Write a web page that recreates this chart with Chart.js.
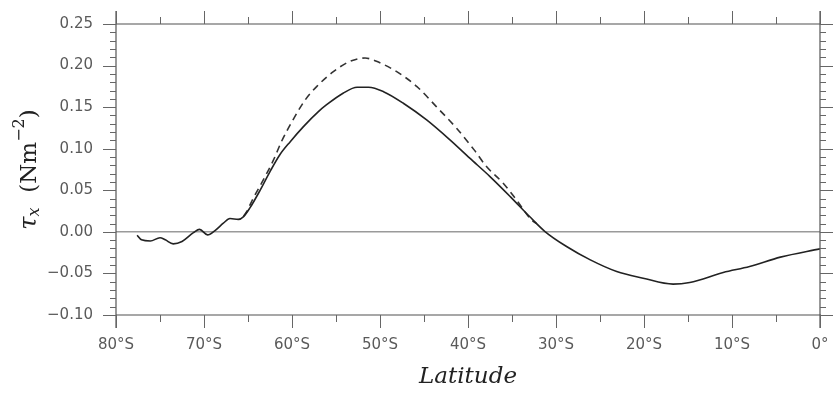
<!DOCTYPE html>
<html>
<head>
<meta charset="utf-8">
<script src="https://cdn.jsdelivr.net/npm/chart.js@4.4.1/dist/chart.umd.min.js"></script>
<style>
    html, body { margin: 0; padding: 0; background: #fff; }
    #wrap { width: 834px; height: 398px; }
</style>
</head>
<body>
<div id="wrap"><canvas id="tauChart" width="834" height="398"></canvas></div>
<script>
// 緯度 (負值 = 南緯) 與風應力 τx
const solidLat = [-77.6, -77.1, -76.1, -75.0, -74.4, -73.5, -72.5, -71.2, -70.5, -69.6, -68.75, -67.8, -67.05, -66.1, -65.5,
    -64.8, -63.6, -62.5, -61.4, -60.2, -58.7, -57.0, -56.1, -54.2, -52.6, -51.3, -49.6, -47.35, -44.7, -42.05, -39.8, -37.5,
    -35.2, -33.0, -31.25, -28.8, -26.1, -23.1, -20.1, -16.7, -14.8, -11.0, -8.0, -4.5, 0];
const solidTau = [-0.004, -0.0096, -0.011, -0.007, -0.0096, -0.0144, -0.0116, -0.001, 0.003, -0.0036, 0.0016, 0.0104, 0.016, 0.015, 0.0184,
    0.0285, 0.0505, 0.0725, 0.0925, 0.1085, 0.1266, 0.1446, 0.1526, 0.1667, 0.1739, 0.1739, 0.1686, 0.1547, 0.1346, 0.1106, 0.0886, 0.0665,
    0.0424, 0.0184, 0.0004, -0.0176, -0.0337, -0.0477, -0.0557, -0.0629, -0.0609, -0.0489, -0.0417, -0.0304, -0.0204];

const dashLat = [-65.5, -65.15, -64.4, -63.26, -62.1, -61.2, -60.0, -58.5, -57.2, -55.3, -53.4, -51.7, -50.4, -48.1, -45.8, -43.6, -41.3,
    -39.3, -37.9, -36.0, -34.5, -32.8, -32.2];
const dashTau = [0.019, 0.0244, 0.0405, 0.0625, 0.0865, 0.1085, 0.1326, 0.1587, 0.1747, 0.1927, 0.2051, 0.2091, 0.2051, 0.1927, 0.1747, 0.1506, 0.1246,
    0.0986, 0.0785, 0.0585, 0.0385, 0.0144, 0.010];

// 刻度
const xTicks = [-80, -70, -60, -50, -40, -30, -20, -10, 0];
const yTicks = [-0.10, -0.05, 0.00, 0.05, 0.10, 0.15, 0.20, 0.25];

const tickColor = '#5a5a5a';
const labelFont = { family: 'DejaVu Sans', size: 15 };

function toPoints(xs, ys) {
    return xs.map((x, i) => ({ x: x, y: ys[i] }));
}

function latLabel(v) {
    if (v === 0) return '0°';
    return Math.abs(v) + '°S';
}

function tauLabel(v) {
    const s = Math.abs(v).toFixed(2);
    return v < -1e-9 ? '\u2212' + s : s;
}

// 框線、刻度、零線
const framePlugin = {
    id: 'frame',
    beforeDatasetsDraw(chart) {
        const { ctx, chartArea: a, scales } = chart;
        const y0 = scales.y.getPixelForValue(0);
        ctx.save();
        ctx.strokeStyle = '#9a9a9a';
        ctx.lineWidth = 1.5;
        ctx.beginPath();
        ctx.moveTo(a.left, y0);
        ctx.lineTo(a.right, y0);
        ctx.stroke();
        ctx.restore();
    },
    afterDraw(chart) {
        const { ctx, chartArea: a, scales } = chart;
        const xs = scales.x, ys = scales.y;
        ctx.save();
        // 上下框線
        ctx.strokeStyle = '#8a8a8a';
        ctx.lineWidth = 1.5;
        ctx.beginPath();
        ctx.moveTo(a.left, a.top); ctx.lineTo(a.right + 1, a.top);
        ctx.moveTo(a.left, a.bottom); ctx.lineTo(a.right + 1, a.bottom);
        ctx.stroke();
        // 左右軸
        ctx.strokeStyle = '#555';
        ctx.lineWidth = 1.2;
        ctx.beginPath();
        ctx.moveTo(a.left, a.top - 13); ctx.lineTo(a.left, a.bottom + 13);
        ctx.moveTo(a.right, a.top - 13); ctx.lineTo(a.right, a.bottom + 13);
        ctx.stroke();
        // x 刻度 (每 5 度)
        ctx.strokeStyle = '#666';
        ctx.lineWidth = 1;
        ctx.beginPath();
        for (let v = -80; v <= 0; v += 5) {
            const px = Math.round(xs.getPixelForValue(v)) + 0.5;
            const len = v % 10 === 0 ? 13 : 7;
            ctx.moveTo(px, a.top); ctx.lineTo(px, a.top - len);
            ctx.moveTo(px, a.bottom); ctx.lineTo(px, a.bottom + len);
        }
        // y 刻度 (每 0.01)
        for (let k = -10; k <= 25; k++) {
            const py = Math.round(ys.getPixelForValue(k / 100)) + 0.5;
            const len = k % 5 === 0 ? 13 : 6;
            ctx.moveTo(a.left, py); ctx.lineTo(a.left - len, py);
            ctx.moveTo(a.right, py); ctx.lineTo(a.right + len, py);
        }
        ctx.stroke();

        // y 軸標題 τx (Nm^-2)
        const cx = 28, cy = (a.top + a.bottom) / 2;
        const parts = [
            { t: 'τ', f: 'italic 24px "DejaVu Serif"', dy: 0 },
            { t: 'x', f: 'italic 16px "DejaVu Serif"', dy: 5 },
            { t: '  (Nm', f: '23px "DejaVu Serif"', dy: 0 },
            { t: '\u22122', f: '16px "DejaVu Serif"', dy: -10 },
            { t: ')', f: '23px "DejaVu Serif"', dy: 0 }
        ];
        let total = 0;
        parts.forEach(p => { ctx.font = p.f; p.w = ctx.measureText(p.t).width; total += p.w; });
        ctx.translate(cx, cy);
        ctx.rotate(-Math.PI / 2);
        ctx.fillStyle = '#222';
        ctx.textBaseline = 'middle';
        ctx.textAlign = 'left';
        let x = -total / 2;
        parts.forEach(p => {
            ctx.font = p.f;
            ctx.fillText(p.t, x, p.dy + 2);
            x += p.w;
        });
        ctx.restore();
    }
};

const ctx = document.getElementById('tauChart').getContext('2d');
const tauChart = new Chart(ctx, {
    type: 'line',
    data: {
        datasets: [{
            label: 'solid',
            data: toPoints(solidLat, solidTau),
            borderColor: '#222',
            borderWidth: 1.6,
            pointRadius: 0,
            cubicInterpolationMode: 'monotone',
            fill: false
        }, {
            label: 'dashed',
            data: toPoints(dashLat, dashTau),
            borderColor: '#333',
            borderWidth: 1.6,
            borderDash: [7, 5],
            pointRadius: 0,
            cubicInterpolationMode: 'monotone',
            fill: false
        }]
    },
    options: {
        responsive: false,
        animation: false,
        devicePixelRatio: 1,
        layout: { padding: { top: 24, right: 14, left: 0, bottom: 0 } },
        plugins: {
            legend: { display: false },
            tooltip: { enabled: false }
        },
        scales: {
            x: {
                type: 'linear',
                min: -80,
                max: 0,
                afterBuildTicks: function(scale) {
                    scale.ticks = xTicks.map(v => ({ value: v }));
                },
                afterFit: function(scale) {
                    scale.height = 83;
                    scale.paddingLeft = 0;
                    scale.paddingRight = 0;
                },
                grid: { display: false, drawTicks: false },
                border: { display: false },
                ticks: {
                    color: tickColor,
                    font: labelFont,
                    padding: 21,
                    maxRotation: 0,
                    autoSkip: false,
                    callback: latLabel
                },
                title: {
                    display: true,
                    text: 'Latitude',
                    color: '#222',
                    font: { family: 'DejaVu Serif', size: 23, style: 'italic' },
                    padding: { top: 0, bottom: 7 }
                }
            },
            y: {
                type: 'linear',
                min: -0.10,
                max: 0.25,
                afterBuildTicks: function(scale) {
                    scale.ticks = yTicks.map(v => ({ value: v }));
                },
                afterFit: function(scale) {
                    scale.width = 116;
                    scale.paddingTop = 0;
                    scale.paddingBottom = 0;
                },
                grid: { display: false, drawTicks: false },
                border: { display: false },
                ticks: {
                    color: tickColor,
                    font: labelFont,
                    padding: 23,
                    autoSkip: false,
                    callback: tauLabel
                }
            }
        }
    },
    plugins: [framePlugin]
});
</script>
</body>
</html>
